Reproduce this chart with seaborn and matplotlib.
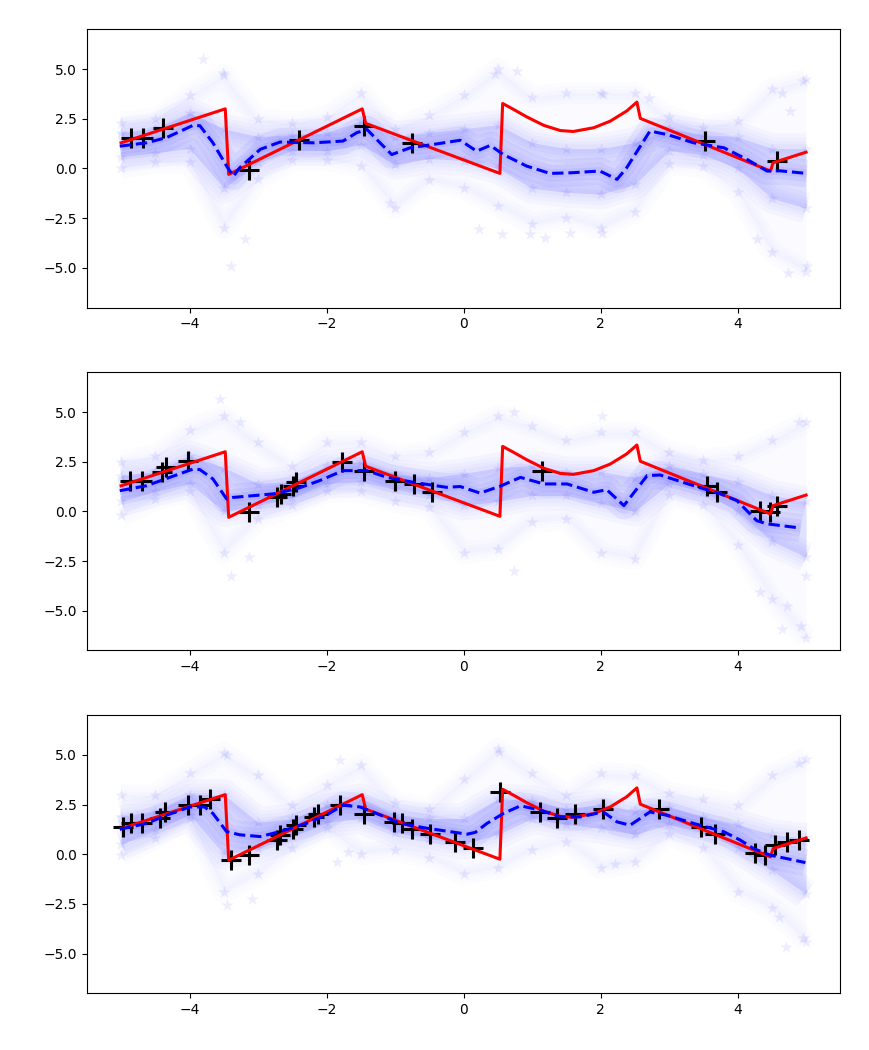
import numpy as np
import pandas as pd
import seaborn as sns
import matplotlib
matplotlib.use("Agg")
import matplotlib.pyplot as plt

# true function (red), same in all panels
red_x = [-5.0, -3.48, -3.43, -1.48, -1.43, 0.53, 0.57, 0.73, 0.92, 1.17, 1.41, 1.6,
         1.9, 2.14, 2.38, 2.53, 2.58, 4.48, 4.52, 5.0]
red_y = [1.29, 3.0, -0.3, 3.0, 2.27, -0.25, 3.27, 2.97, 2.6, 2.17, 1.91, 1.86,
         2.05, 2.38, 2.89, 3.34, 2.52, -0.13, 0.29, 0.82]

# posterior mean (blue dashed)
mean_x1 = [-5.02, -4.63, -4.34, -3.95, -3.85, -3.66, -3.46, -3.36, -3.27, -2.97, -2.68, -2.19,
           -1.76, -1.56, -1.41, -1.22, -1.05, -0.78, -0.44, -0.05, 0.19, 0.39, 0.58, 0.92,
           1.26, 1.56, 1.99, 2.24, 2.38, 2.72, 2.97, 3.36, 3.8, 4.14, 4.43, 4.62, 5.01]
mean_y1 = [1.12, 1.29, 1.55, 2.17, 2.15, 1.29, 0.12, -0.39, 0.03, 0.96, 1.33, 1.29,
           1.38, 1.8, 1.96, 1.29, 0.7, 1.04, 1.21, 1.42, 0.87, 1.16, 0.7, 0.12,
           -0.25, -0.22, -0.13, -0.55, 0.03, 1.88, 1.71, 1.29, 1.04, 0.45, -0.13, -0.12, -0.25]

mean_x2 = [-5.02, -4.63, -4.29, -3.95, -3.85, -3.66, -3.56, -3.46, -3.37, -3.07, -2.78, -2.44,
           -2.1, -1.76, -1.41, -1.12, -0.73, -0.25, -0.05, 0.24, 0.53, 0.83, 1.17, 1.51,
           1.9, 2.09, 2.34, 2.68, 2.87, 3.36, 3.75, 3.99, 4.28, 4.43, 4.92]
mean_y2 = [1.04, 1.29, 1.71, 2.13, 2.1, 1.63, 1.13, 0.62, 0.7, 0.79, 0.88, 1.13,
           1.55, 2.05, 2.05, 1.71, 1.46, 1.21, 1.25, 0.92, 1.26, 1.71, 1.38, 1.38,
           0.96, 1.09, 0.29, 1.8, 1.83, 1.29, 0.88, 0.54, -0.47, -0.63, -0.84]

mean_x3 = [-5.02, -4.63, -4.34, -4.0, -3.78, -3.66, -3.46, -3.27, -2.97, -2.68, -2.29, -2.0,
           -1.76, -1.51, -1.22, -0.93, -0.54, -0.2, 0.05, 0.17, 0.34, 0.58, 0.83, 1.12,
           1.41, 1.7, 2.04, 2.24, 2.43, 2.72, 2.97, 3.36, 3.8, 4.04, 4.23, 4.48, 4.72, 4.99]
mean_y3 = [1.26, 1.55, 1.96, 2.38, 2.38, 2.05, 1.14, 0.98, 0.89, 1.14, 1.56, 1.98,
           2.47, 2.38, 1.98, 1.56, 1.31, 1.14, 1.01, 1.1, 1.55, 2.05, 2.44, 2.22,
           1.88, 1.88, 2.13, 1.63, 1.46, 2.13, 1.96, 1.55, 1.13, 0.71, 0.29, -0.05, -0.22, -0.42]

# observations (black +)
obs_x1 = [-4.85, -4.68, -4.39, -3.14, -2.41, -1.46, -0.76, 3.53, 4.58]
obs_y1 = [1.55, 1.51, 2.05, -0.08, 1.43, 2.13, 1.26, 1.38, 0.37]

obs_x2 = [-4.87, -4.7, -4.41, -4.34, -4.02, -3.14, -2.73, -2.66, -2.49, -2.44, -1.78, -1.46,
          -1.0, -0.73, -0.46, 1.14, 3.55, 3.7, 4.33, 4.48, 4.58]
obs_y2 = [1.55, 1.55, 2.0, 2.22, 2.55, -0.05, 0.7, 0.88, 1.29, 1.46, 2.5, 2.05,
          1.55, 1.38, 0.96, 2.05, 1.29, 0.99, 0.04, -0.05, 0.29]

obs_x3 = [-4.97, -4.85, -4.7, -4.43, -4.36, -4.02, -3.85, -3.7, -3.39, -3.14, -2.73, -2.68,
          -2.49, -2.44, -2.19, -2.12, -1.8, -1.46, -1.02, -0.9, -0.76, -0.49, -0.12, 0.14,
          0.53, 1.12, 1.36, 1.63, 2.04, 2.85, 3.46, 3.67, 4.26, 4.4, 4.55, 4.72, 4.89]
obs_y3 = [1.38, 1.55, 1.55, 1.8, 2.13, 2.47, 2.47, 2.8, -0.3, -0.05, 0.7, 0.96,
          1.29, 1.46, 1.88, 2.05, 2.47, 2.05, 1.63, 1.55, 1.29, 1.04, 0.64, 0.29,
          3.14, 2.13, 1.8, 2.05, 2.3, 2.3, 1.38, 1.04, 0.04, -0.05, 0.47, 0.64, 0.7]

# spread of the posterior samples (stars), read per column
band_x = [-5, -4.5, -4, -3.5, -3, -2.5, -2, -1.5, -1, -0.5, 0, 0.5, 1, 1.5, 2, 2.5, 3, 3.5, 4, 4.5, 5]

inner_lo1 = [0.6, 0.8, 1.0, -1.0, 0.3, 0.9, 0.9, 1.2, 0.2, 0.5, 0.4, 0.0, -1.0, -1.2, -1.3, -0.8, 0.9, 0.7, 0.0, -1.5, -2.0]
inner_hi1 = [1.8, 2.0, 2.8, 2.0, 1.6, 1.7, 1.8, 2.4, 1.6, 1.8, 2.0, 2.2, 1.3, 1.0, 1.0, 1.3, 2.0, 1.7, 1.6, 1.0, 1.0]
outer_lo1 = [0.0, 0.3, 0.3, -3.0, -0.55, 0.45, 0.45, 0.1, -2.0, -0.6, -1.0, -1.9, -2.8, -2.5, -3.0, -2.2, 0.2, 0.1, -1.2, -4.2, -5.2]
outer_hi1 = [2.3, 2.5, 3.7, 4.7, 2.5, 2.3, 2.6, 3.8, 2.0, 2.7, 3.7, 5.0, 3.6, 3.8, 3.8, 3.8, 2.6, 2.1, 2.4, 4.0, 4.5]

inner_lo2 = [0.5, 1.0, 1.4, 0.0, 0.3, 0.7, 1.4, 1.5, 1.1, 0.8, 0.3, 0.5, 0.8, 0.8, 0.4, 0.0, 1.4, 1.0, 0.0, -1.5, -2.3]
inner_hi2 = [1.8, 2.0, 2.8, 2.2, 1.4, 1.5, 2.3, 2.5, 1.9, 1.7, 1.9, 2.2, 2.3, 2.0, 2.0, 1.7, 2.3, 1.9, 1.5, 0.8, 0.5]
outer_lo2 = [-0.2, 0.6, 1.0, -2.1, -0.4, 0.3, 1.0, 1.0, 0.5, 0.2, -2.1, -1.9, -0.55, -0.4, -2.1, -2.4, 0.8, 0.3, -1.7, -4.4, -6.4]
outer_hi2 = [2.5, 2.8, 4.1, 4.8, 3.5, 2.3, 3.5, 3.5, 2.8, 3.0, 4.0, 4.8, 4.3, 3.6, 4.0, 4.0, 3.0, 2.6, 2.8, 3.6, 4.5]

inner_lo3 = [0.5, 1.2, 2.0, 0.0, 0.3, 0.9, 1.6, 1.8, 1.1, 0.8, 0.5, 1.0, 1.8, 1.5, 1.3, 1.0, 1.5, 1.1, 0.3, -0.8, -2.0]
inner_hi3 = [1.9, 2.2, 3.0, 3.0, 1.6, 1.8, 2.5, 2.8, 2.0, 1.8, 1.8, 2.8, 2.7, 2.3, 2.5, 2.2, 2.4, 1.9, 1.5, 1.0, 0.8]
outer_lo3 = [-0.05, 0.8, 1.8, -1.9, -1.0, 0.3, 1.3, 0.0, 0.2, -0.2, -1.0, -0.7, 0.2, 0.6, -0.7, -0.4, 1.0, 0.3, -1.9, -2.7, -4.4]
outer_hi3 = [3.0, 3.0, 4.1, 5.1, 4.0, 2.5, 3.5, 4.5, 2.6, 2.3, 3.8, 5.3, 4.1, 3.0, 4.1, 4.0, 3.1, 2.8, 2.5, 4.0, 4.8]

# stray samples
out_x1 = [-3.8, -3.51, -3.39, -3.19, -1.07, 0.46, 0.78, 0.22, 0.56, 0.97, 1.19, 1.56, 2.02, 2.04, 2.7, 4.74, 5.01, 4.96, 4.28, 4.65, 4.77]
out_y1 = [5.49, 4.82, -4.92, -3.57, -1.73, 4.73, 4.9, -3.07, -3.32, -3.32, -3.49, -3.25, -3.24, 3.73, 3.56, -5.25, -4.92, 4.4, -3.57, 3.8, 2.89]

out_x2 = [-3.56, -3.27, -3.39, -3.14, 0.73, 2.02, 0.73, 4.89, 4.65, 4.92, 4.72, 5.0, 4.33]
out_y2 = [5.66, 4.48, -3.23, -2.31, 4.99, 4.82, -2.98, 4.48, -5.92, -5.75, -4.74, -3.23, -4.07]

out_x3 = [-3.46, -3.46, -3.09, -1.8, -1.69, -1.85, 0.51, 4.89, 4.96, 4.7, 2.21, 4.6]
out_y3 = [4.99, -2.57, -2.23, 4.73, 0.12, -0.38, 5.15, 4.57, -4.24, -4.66, -0.47, -3.15]

panels = [
    (mean_x1, mean_y1, obs_x1, obs_y1, inner_lo1, inner_hi1, outer_lo1, outer_hi1, out_x1, out_y1),
    (mean_x2, mean_y2, obs_x2, obs_y2, inner_lo2, inner_hi2, outer_lo2, outer_hi2, out_x2, out_y2),
    (mean_x3, mean_y3, obs_x3, obs_y3, inner_lo3, inner_hi3, outer_lo3, outer_hi3, out_x3, out_y3),
]


def soft_band(ax, lo, hi, alpha, widths, edge_alpha):
    # band of the star cloud, its edges blurred by wide faint strokes
    ax.fill_between(band_x, lo, hi, color='blue', alpha=alpha, lw=0, zorder=0.5)
    for edge in (lo, hi):
        for w in widths:
            sns.lineplot(x=band_x, y=edge, color='blue', lw=w, alpha=edge_alpha,
                         sort=False, estimator=None, solid_capstyle='butt',
                         solid_joinstyle='round', ax=ax, zorder=0.5)


fig, axes = plt.subplots(3, 1, figsize=(8.69, 10.5), dpi=100)
plt.subplots_adjust(left=0.100, right=0.967, top=0.972, bottom=0.054, hspace=0.233)

red_df = pd.DataFrame({'x': red_x, 'y': red_y})

for ax, (mx, my, ox, oy, ilo, ihi, olo, ohi, sx, sy) in zip(axes, panels):
    soft_band(ax, olo, ohi, 0.02, [16, 10, 5], 0.012)
    soft_band(ax, ilo, ihi, 0.10, [22, 16, 11, 6], 0.022)
    # samples crowd around the mean
    for w in [20, 12, 6]:
        sns.lineplot(x=mx, y=my, color='blue', lw=w, alpha=0.05, sort=False,
                     estimator=None, solid_capstyle='butt', ax=ax, zorder=0.6)

    star_x = band_x * 4 + sx
    star_y = ilo + ihi + olo + ohi + sy
    sns.scatterplot(x=star_x, y=star_y, marker='*', s=90, color='blue', alpha=0.07,
                    linewidth=0.5, ax=ax, zorder=1)

    sns.scatterplot(x=ox, y=oy, marker='+', s=200, color='k', linewidth=2.2, ax=ax, zorder=3)
    sns.lineplot(data=red_df, x='x', y='y', color='red', lw=2.2, sort=False,
                 estimator=None, ax=ax, zorder=4)
    sns.lineplot(x=mx, y=my, color='blue', lw=2.2, linestyle='--', sort=False,
                 estimator=None, ax=ax, zorder=5)

    ax.set_xlim(-5.5, 5.5)
    ax.set_ylim(-7, 7)
    ax.set_yticks([-5.0, -2.5, 0.0, 2.5, 5.0])
    ax.set_xticks([-4, -2, 0, 2, 4])
    ax.set_xlabel('')
    ax.set_ylabel('')

plt.savefig('out.png', dpi=100)
